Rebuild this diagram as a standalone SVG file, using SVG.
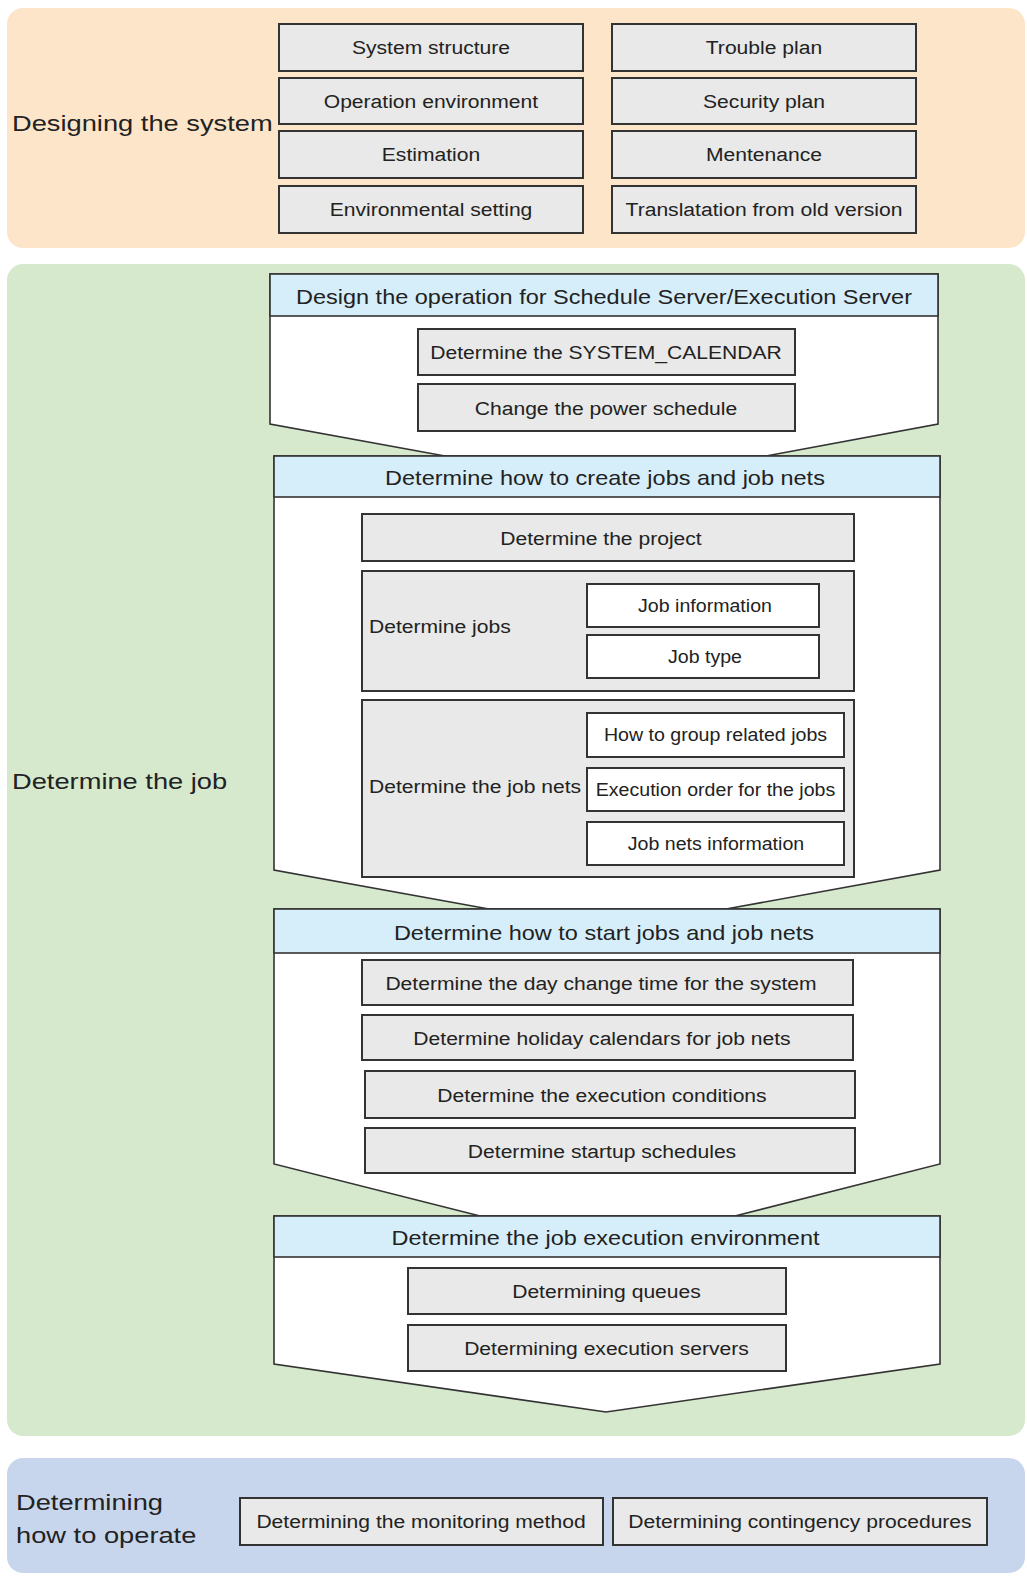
<svg xmlns="http://www.w3.org/2000/svg" width="1027" height="1576" viewBox="0 0 1027 1576">
<style>
text { font-family: "Liberation Sans", Arial, sans-serif; fill: #222; transform-box: fill-box; }
.lbl { font-size: 22px; transform: scaleX(1.24); transform-origin: left center; }
.hd { font-size: 20.5px; text-anchor: middle; transform: scaleX(1.146); transform-origin: center; }
.bx { font-size: 19px; text-anchor: middle; transform: scaleX(1.11); transform-origin: center; }
.gl { font-size: 19px; transform: scaleX(1.11); transform-origin: left center; }
.sm { font-size: 17.5px; text-anchor: middle; transform: scaleX(1.12); transform-origin: center; }
.box { fill: #e8e9e8; stroke: #333; stroke-width: 2; }
.wbox { fill: #ffffff; stroke: #333; stroke-width: 2; }
.stage { fill: #ffffff; stroke: #333; stroke-width: 1.6; stroke-linejoin: miter; }
.head { fill: #d6eefa; stroke: #333; stroke-width: 1.6; }
</style>

<g id="band-design">
  <rect x="7" y="8" width="1018" height="240" rx="16" fill="#fde5c9"/>
  <text class="lbl" x="12" y="131">Designing the system</text>
</g>
<g id="band-job">
  <rect x="7" y="264" width="1018" height="1172" rx="16" fill="#d6e9cd"/>
  <text class="lbl" x="12" y="789">Determine the job</text>
</g>
<g id="band-operate">
  <rect x="7" y="1458" width="1018" height="115" rx="16" fill="#c7d6ec"/>
  <text class="lbl" x="16" y="1510">Determining</text>
  <text class="lbl" x="16" y="1543">how to operate</text>
</g>

<g id="connectors"></g>

<g id="n-system-structure"><rect class="box" x="279" y="24" width="304" height="47"/><text class="bx" x="431" y="54.5">System structure</text></g>
<g id="n-operation-env"><rect class="box" x="279" y="78" width="304" height="46"/><text class="bx" x="431" y="108">Operation environment</text></g>
<g id="n-estimation"><rect class="box" x="279" y="131" width="304" height="47"/><text class="bx" x="431" y="161.5">Estimation</text></g>
<g id="n-env-setting"><rect class="box" x="279" y="186" width="304" height="47"/><text class="bx" x="431" y="216.5">Environmental setting</text></g>
<g id="n-trouble"><rect class="box" x="612" y="24" width="304" height="47"/><text class="bx" x="764" y="54.5">Trouble plan</text></g>
<g id="n-security"><rect class="box" x="612" y="78" width="304" height="46"/><text class="bx" x="764" y="108">Security plan</text></g>
<g id="n-mentenance"><rect class="box" x="612" y="131" width="304" height="47"/><text class="bx" x="764" y="161.5">Mentenance</text></g>
<g id="n-translation"><rect class="box" x="612" y="186" width="304" height="47"/><text class="bx" x="764" y="216.5">Translatation from old version</text></g>

<g id="stage1">
  <polygon class="stage" points="270,274 938,274 938,424 766,456 445,456 270,424"/>
  <rect class="head" x="270" y="274" width="668" height="42"/>
  <text class="hd" x="604" y="304">Design the operation for Schedule Server/Execution Server</text>
</g>
<g id="n-system-calendar"><rect class="box" x="418" y="329" width="377" height="46"/><text class="bx" x="606" y="359.5">Determine the SYSTEM_CALENDAR</text></g>
<g id="n-power-schedule"><rect class="box" x="418" y="384" width="377" height="47"/><text class="bx" x="606" y="415">Change the power schedule</text></g>

<g id="stage2">
  <polygon class="stage" points="274,456 940,456 940,870 726,909 489,909 274,870"/>
  <rect class="head" x="274" y="456" width="666" height="41"/>
  <text class="hd" x="605" y="485.5">Determine how to create jobs and job nets</text>
</g>
<g id="n-project"><rect class="box" x="362" y="514" width="492" height="47"/><text class="bx" x="601" y="545">Determine the project</text></g>
<g id="n-jobs">
  <rect class="box" x="362" y="571" width="492" height="120"/>
  <text class="gl" x="369" y="633">Determine jobs</text>
</g>
<g id="n-job-info"><rect class="wbox" x="587" y="584" width="232" height="43"/><text class="sm" x="705" y="612">Job information</text></g>
<g id="n-job-type"><rect class="wbox" x="587" y="635" width="232" height="43"/><text class="sm" x="705" y="663">Job type</text></g>
<g id="n-jobnets">
  <rect class="box" x="362" y="700" width="492" height="177"/>
  <text class="gl" x="369" y="793">Determine the job nets</text>
</g>
<g id="n-group-jobs"><rect class="wbox" x="587" y="713" width="257" height="44"/><text class="sm" x="715.5" y="741.5">How to group related jobs</text></g>
<g id="n-exec-order"><rect class="wbox" x="587" y="768" width="257" height="43"/><text class="sm" x="715.5" y="796">Execution order for the jobs</text></g>
<g id="n-jobnets-info"><rect class="wbox" x="587" y="822" width="257" height="43"/><text class="sm" x="716" y="850">Job nets information</text></g>

<g id="stage3">
  <polygon class="stage" points="274,909 940,909 940,1164 735,1216 480,1216 274,1164"/>
  <rect class="head" x="274" y="909" width="666" height="44"/>
  <text class="hd" x="604" y="940">Determine how to start jobs and job nets</text>
</g>
<g id="n-day-change"><rect class="box" x="362" y="960" width="491" height="45"/><text class="bx" x="601" y="990">Determine the day change time for the system</text></g>
<g id="n-holiday"><rect class="box" x="362" y="1015" width="491" height="45"/><text class="bx" x="602" y="1045">Determine holiday calendars for job nets</text></g>
<g id="n-exec-cond"><rect class="box" x="365" y="1071" width="490" height="47"/><text class="bx" x="602" y="1102">Determine the execution conditions</text></g>
<g id="n-startup"><rect class="box" x="365" y="1128" width="490" height="45"/><text class="bx" x="602" y="1158">Determine startup schedules</text></g>

<g id="stage4">
  <polygon class="stage" points="274,1216 940,1216 940,1364 606,1412 274,1364"/>
  <rect class="head" x="274" y="1216" width="666" height="41"/>
  <text class="hd" x="605.5" y="1245.5">Determine the job execution environment</text>
</g>
<g id="n-queues"><rect class="box" x="408" y="1268" width="378" height="46"/><text class="bx" x="606.5" y="1298.5">Determining queues</text></g>
<g id="n-exec-servers"><rect class="box" x="408" y="1325" width="378" height="46"/><text class="bx" x="606.5" y="1355.5">Determining execution servers</text></g>

<g id="n-monitoring"><rect class="box" x="240" y="1498" width="363" height="47"/><text class="bx" x="421" y="1528.5">Determining the monitoring method</text></g>
<g id="n-contingency"><rect class="box" x="613" y="1498" width="374" height="47"/><text class="bx" x="800" y="1528.5">Determining contingency procedures</text></g>
</svg>
